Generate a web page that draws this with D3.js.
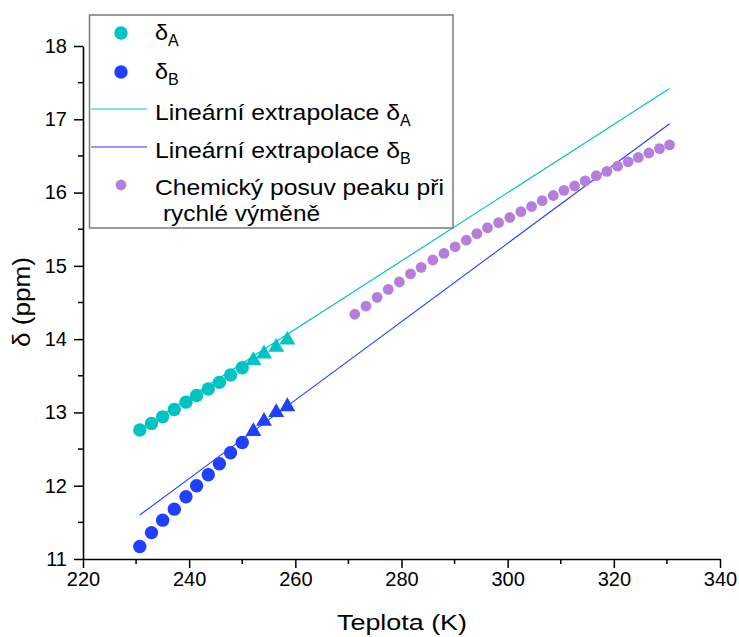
<!DOCTYPE html>
<html>
<head>
<meta charset="utf-8">
<script src="https://cdnjs.cloudflare.com/ajax/libs/d3/7.8.5/d3.min.js"></script>
<style>
  body { margin: 0; background: #fff; }
  text { font-family: "Liberation Sans", Arial, sans-serif; fill: #000; }
</style>
</head>
<body>
<div id="chart"></div>
<script>
// temperatures (K) of the slow-exchange points, circles then triangles
const tempSlow = [230.7, 232.9, 235.0, 237.2, 239.4, 241.4, 243.6, 245.7, 247.8, 250.0];
const tempTri = [252.1, 254.1, 256.4, 258.5];

const deltaA = [12.76, 12.85, 12.94, 13.04, 13.14, 13.23, 13.32, 13.41, 13.51, 13.61];
const deltaATri = [13.71, 13.80, 13.89, 13.99];
const deltaB = [11.17, 11.36, 11.53, 11.68, 11.85, 12.00, 12.15, 12.30, 12.45, 12.59];
const deltaBTri = [12.74, 12.88, 13.00, 13.08];

// fast exchange peak
const tempFast = [271.2, 273.3, 275.4, 277.5, 279.6, 281.7, 283.7, 285.9, 288.0, 290.1,
  292.2, 294.2, 296.2, 298.3, 300.4, 302.5, 304.5, 306.5, 308.6, 310.6,
  312.6, 314.6, 316.7, 318.7, 320.7, 322.7, 324.6, 326.6, 328.6, 330.5];
const deltaFast = [14.34, 14.45, 14.57, 14.68, 14.78, 14.89, 14.98, 15.08, 15.17, 15.26,
  15.35, 15.44, 15.52, 15.59, 15.66, 15.74, 15.81, 15.89, 15.96, 16.03,
  16.09, 16.16, 16.23, 16.29, 16.36, 16.42, 16.48, 16.54, 16.60, 16.65];

// linear extrapolation endpoints
const fitT = [230.7, 330.5];
const fitA = [12.77, 17.42];
const fitB = [11.60, 16.94];

const xTicks = [220, 240, 260, 280, 300, 320, 340];
const yTicks = [11, 12, 13, 14, 15, 16, 17, 18];

const cCyan = '#00c4c4', cBlue = '#2040ff', cPurple = '#b57edc';

let width = 739, height = 637;
let svg = d3.select('#chart').append('svg')
  .attr('width', width)
  .attr('height', height);

let x = d3.scaleLinear().domain([220, 340]).range([83, 720]);
let y = d3.scaleLinear().domain([11, 18]).range([559, 46]);

// axes
let xAxis = svg.append('g')
  .attr('transform', 'translate(0,' + y(11) + ')')
  .call(d3.axisBottom(x).tickValues(xTicks).tickFormat(d3.format('d'))
    .tickSize(9).tickPadding(4).tickSizeOuter(0));
xAxis.append('g').selectAll('line')
  .data(d3.range(230, 340, 20))
  .join('line')
  .attr('x1', d => x(d)).attr('x2', d => x(d))
  .attr('y1', 0).attr('y2', 5)
  .attr('stroke', '#000').attr('stroke-width', 1.5);

let yAxis = svg.append('g')
  .attr('transform', 'translate(' + x(220) + ',0)')
  .call(d3.axisLeft(y).tickValues(yTicks).tickFormat(d3.format('d'))
    .tickSize(9).tickPadding(7).tickSizeOuter(0));
yAxis.append('g').selectAll('line')
  .data(d3.range(11.5, 18, 1))
  .join('line')
  .attr('y1', d => y(d)).attr('y2', d => y(d))
  .attr('x1', 0).attr('x2', -5)
  .attr('stroke', '#000').attr('stroke-width', 1.5);

svg.selectAll('.domain').attr('stroke', '#000').attr('stroke-width', 1.6);
svg.selectAll('.tick line').attr('stroke', '#000').attr('stroke-width', 1.5);
svg.selectAll('.tick text')
  .style('font-family', '"Liberation Sans", Arial, sans-serif')
  .style('font-size', '20px')
  .attr('fill', '#000');

// axis titles (the original text is drawn a little wide)
svg.append('text')
  .attr('x', 337).attr('y', 630)
  .attr('textLength', 130).attr('lengthAdjust', 'spacingAndGlyphs')
  .style('font-size', '22px')
  .text('Teplota (K)');

svg.append('text')
  .attr('transform', 'translate(30,347) rotate(-90)')
  .attr('textLength', 90).attr('lengthAdjust', 'spacingAndGlyphs')
  .style('font-size', '23px')
  .text('δ (ppm)');

// extrapolation lines
let line = d3.line().x(d => x(d[0])).y(d => y(d[1]));
svg.append('path')
  .datum(fitT.map((t, i) => [t, fitA[i]]))
  .attr('d', line)
  .attr('fill', 'none').attr('stroke', cCyan).attr('stroke-width', 1.2);
svg.append('path')
  .datum(fitT.map((t, i) => [t, fitB[i]]))
  .attr('d', line)
  .attr('fill', 'none').attr('stroke', cBlue).attr('stroke-width', 1.1);

// markers
function circles(ts, ds, color, r) {
  svg.append('g').selectAll('circle')
    .data(ts.map((t, i) => [t, ds[i]]))
    .join('circle')
    .attr('cx', d => x(d[0]))
    .attr('cy', d => y(d[1]))
    .attr('r', r)
    .attr('fill', color);
}
function triangles(ts, ds, color) {
  svg.append('g').selectAll('path')
    .data(ts.map((t, i) => [t, ds[i]]))
    .join('path')
    .attr('transform', d => 'translate(' + x(d[0]) + ',' + y(d[1]) + ')')
    .attr('d', d3.symbol(d3.symbolTriangle, 110))
    .attr('fill', color);
}
circles(tempSlow, deltaA, cCyan, 6.7);
triangles(tempTri, deltaATri, cCyan);
circles(tempSlow, deltaB, cBlue, 6.7);
triangles(tempTri, deltaBTri, cBlue);
circles(tempFast, deltaFast, cPurple, 5.4);

// legend
let lg = svg.append('g');
lg.append('rect')
  .attr('x', 89.5).attr('y', 15)
  .attr('width', 363.5).attr('height', 213)
  .attr('fill', '#fff').attr('stroke', '#7a7a7a').attr('stroke-width', 1.5);

lg.append('circle').attr('cx', 121).attr('cy', 33).attr('r', 6.7).attr('fill', cCyan);
lg.append('circle').attr('cx', 121).attr('cy', 72).attr('r', 6.7).attr('fill', cBlue);
lg.append('line').attr('x1', 91).attr('x2', 147).attr('y1', 109).attr('y2', 109)
  .attr('stroke', cCyan).attr('stroke-width', 1.2);
lg.append('line').attr('x1', 91).attr('x2', 147).attr('y1', 147).attr('y2', 147)
  .attr('stroke', cBlue).attr('stroke-width', 1.1);
lg.append('circle').attr('cx', 121).attr('cy', 185).attr('r', 5.4).attr('fill', cPurple);

function legendText(xPos, yPos, label, len, sub) {
  let t = lg.append('text').attr('x', xPos).attr('y', yPos).style('font-size', '22px');
  t.append('tspan').attr('textLength', len).attr('lengthAdjust', 'spacingAndGlyphs').text(label);
  if (sub) {
    t.append('tspan').attr('dy', 6).style('font-size', '16px').text(sub);
  }
}
legendText(155, 40, 'δ', 13, 'A');
legendText(155, 79, 'δ', 13, 'B');
legendText(155, 120, 'Lineární extrapolace δ', 245, 'A');
legendText(155, 158, 'Lineární extrapolace δ', 245, 'B');
legendText(155, 195, 'Chemický posuv peaku při', 289);
legendText(163, 221, 'rychlé výměně', 157);
</script>
</body>
</html>
